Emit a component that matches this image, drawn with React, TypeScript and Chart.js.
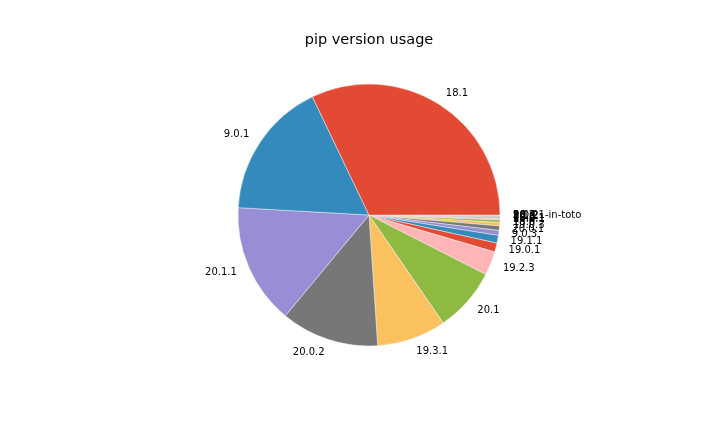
import React, { useEffect, useRef } from "react";
import { Chart, registerables } from "chart.js";

Chart.register(...registerables);

// Versions in matplotlib order (counter-clockwise from 3 o'clock)
const versions: string[] = [
  "18.1", "9.0.1", "20.1.1", "20.0.2", "19.3.1", "20.1", "19.2.3",
  "19.0.1", "19.1.1", "9.0.3", "20.0.1", "19.0.3", "18.0",
  "10.0.1", "19.2.1", "19.3", "20.0", "8.1.2", "9.0.2", "20.2", "20.2.1-in-toto",
];
const counts: number[] = [
  2312, 1224, 1070, 870, 614, 570, 212,
  80, 68, 44, 40, 30, 22,
  12, 9, 7, 5, 4, 3, 2, 2,
];
const palette: string[] = ["#E24A33", "#348ABD", "#988ED5", "#777777", "#FBC15E", "#8EBA42", "#FFB5B8"];
const titleText = "pip version usage";

export default function App() {
  const ref = useRef<HTMLCanvasElement | null>(null);
  useEffect(() => {
    if (!ref.current) return;
    const colors = versions.map((_, i) => palette[i % palette.length]);
    // reverse so that clockwise drawing from 3 o'clock reproduces counter-clockwise layout
    const labels = [...versions].reverse();
    const data = [...counts].reverse();
    const bg = [...colors].reverse();

    const labelPlugin = {
      id: "sliceLabels",
      afterDatasetsDraw(chart: any) {
        const ctx = chart.ctx;
        const meta = chart.getDatasetMeta(0);
        ctx.save();
        ctx.font = "10px 'DejaVu Sans'";
        ctx.fillStyle = "#000";
        ctx.textBaseline = "middle";
        meta.data.forEach((arc: any, i: number) => {
          const p = arc.getProps(["x", "y", "startAngle", "endAngle", "outerRadius"], true);
          const mid = (p.startAngle + p.endAngle) / 2;
          const c = Math.cos(mid);
          const s = Math.sin(mid);
          const lx = p.x + 1.1 * p.outerRadius * c;
          const ly = p.y + 1.1 * p.outerRadius * s;
          ctx.textAlign = c > 0 ? "left" : "right";
          ctx.fillText(String(chart.data.labels[i]), lx, ly);
        });
        ctx.restore();
      },
    };

    const chart = new Chart(ref.current, {
      type: "pie",
      data: {
        labels,
        datasets: [
          {
            data,
            backgroundColor: bg,
            borderColor: "#EEEEEE",
            borderWidth: 0.5,
          },
        ],
      },
      options: {
        responsive: false,
        animation: false,
        rotation: 90,
        radius: 131,
        layout: { padding: { left: 18, right: 0, top: 0, bottom: 60.6 } },
        plugins: {
          legend: { display: false },
          tooltip: { enabled: false },
          title: {
            display: true,
            text: titleText,
            color: "#000",
            font: { family: "'DejaVu Sans'", size: 14.5, weight: "normal", lineHeight: 1.2 },
            padding: { top: 32, bottom: 9.2 },
          },
        },
      } as any,
      plugins: [labelPlugin],
    });
    return () => chart.destroy();
  }, []);

  return (
    <div style={{ position: "absolute", left: 0, top: 0, width: 720, height: 432, background: "#fff" }}>
      <canvas ref={ref} width={720} height={432} style={{ width: 720, height: 432 }} />
    </div>
  );
}
